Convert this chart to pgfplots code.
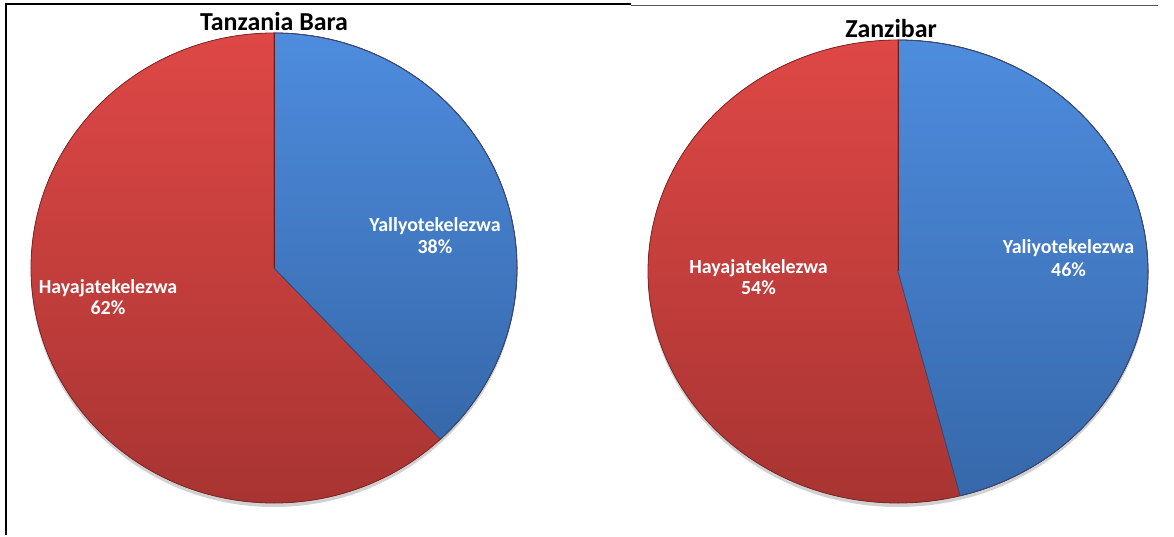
\documentclass[border=0pt]{standalone}
\usepackage{pgfplots}
\pgfplotsset{compat=1.18}
\usepackage{pgfplotstable}
\usepackage{fontspec}
\setmainfont{Carlito}
\definecolor{bluetop}{RGB}{78,140,222}
\definecolor{bluebot}{RGB}{54,104,170}
\definecolor{redtop}{RGB}{222,72,70}
\definecolor{redbot}{RGB}{168,52,50}
\definecolor{blueedge}{RGB}{40,78,130}
\definecolor{rededge}{RGB}{125,38,36}
% percentages: yes = Yaliyotekelezwa, no = Hayajatekelezwa
\pgfplotstableread{
region yes no
Bara 38 62
Zanzibar 46 54
}\piedata
\begin{document}
\begin{tikzpicture}
\pgfplotstablegetelem{0}{yes}\of\piedata \let\yesA\pgfplotsretval
\pgfplotstablegetelem{0}{no}\of\piedata \let\noA\pgfplotsretval
\pgfplotstablegetelem{1}{yes}\of\piedata \let\yesB\pgfplotsretval
\pgfplotstablegetelem{1}{no}\of\piedata \let\noB\pgfplotsretval
\pgfmathsetmacro\endA{90-3.6*\yesA}
\pgfmathsetmacro\endB{90-3.6*\yesB}
\begin{axis}[
  width=1174bp, height=535bp, scale only axis,
  xmin=0, xmax=1174, ymin=0, ymax=535,
  axis lines=none, clip=false]
\path (axis cs:0,0) rectangle (axis cs:1174,535);
% frame
\draw[line width=2.5bp] (axis cs:6,0) -- (axis cs:6,531) -- (axis cs:631,531);
\draw[black!65, line width=1.3bp] (axis cs:631,529.5) -- (axis cs:1158,529.5);
% ---- Tanzania Bara
\fill[black!18] (axis cs:274,263) ellipse [x radius=243bp, y radius=235bp];
\fill[top color=redtop, bottom color=redbot] (axis cs:274,267) ellipse [x radius=243bp, y radius=235bp];
\fill[top color=bluetop, bottom color=bluebot] (axis cs:274,267) -- (axis cs:274,502)
   arc[start angle=90, end angle=\endA, x radius=243bp, y radius=235bp] -- cycle;
\draw[rededge, line width=0.8bp] (axis cs:274,267) ellipse [x radius=243bp, y radius=235bp];
\draw[blueedge, line width=0.8bp] (axis cs:274,267) -- (axis cs:274,502)
   arc[start angle=90, end angle=\endA, x radius=243bp, y radius=235bp] -- cycle;
\draw[rededge!80!black, line width=1bp] (axis cs:274,267) -- (axis cs:274,502);
% ---- Zanzibar
\fill[black!18] (axis cs:898,259.5) ellipse [x radius=250bp, y radius=231.5bp];
\fill[top color=redtop, bottom color=redbot] (axis cs:898,263.5) ellipse [x radius=250bp, y radius=231.5bp];
\fill[top color=bluetop, bottom color=bluebot] (axis cs:898,263.5) -- (axis cs:898,495)
   arc[start angle=90, end angle=\endB, x radius=250bp, y radius=231.5bp] -- cycle;
\draw[rededge, line width=0.8bp] (axis cs:898,263.5) ellipse [x radius=250bp, y radius=231.5bp];
\draw[blueedge, line width=0.8bp] (axis cs:898,263.5) -- (axis cs:898,495)
   arc[start angle=90, end angle=\endB, x radius=250bp, y radius=231.5bp] -- cycle;
\draw[rededge!80!black, line width=1bp] (axis cs:898,263.5) -- (axis cs:898,495);
% titles
\node[anchor=base, font=\bfseries\fontsize{26}{30}\selectfont] at (axis cs:274,504.6) {Tanzania Bara};
\node[anchor=base, font=\bfseries\fontsize{26}{30}\selectfont] at (axis cs:891,497.1) {Zanzibar};
% labels
\tikzset{lab/.style={anchor=base, text=white, font=\bfseries\fontsize{20}{24}\selectfont, inner sep=0pt}}
\node[lab] at (axis cs:435,303.6) {Yallyotekelezwa};
\node[lab] at (axis cs:435,281.1) {\yesA\%};
\node[lab] at (axis cs:108,241.6) {Hayajatekelezwa};
\node[lab] at (axis cs:108,220.6) {\noA\%};
\node[lab] at (axis cs:758.5,261.9) {Hayajatekelezwa};
\node[lab] at (axis cs:758.5,240.6) {\noB\%};
\node[lab] at (axis cs:1068.5,281.6) {Yaliyotekelezwa};
\node[lab] at (axis cs:1068.5,258.6) {\yesB\%};
\end{axis}
\end{tikzpicture}
\end{document}
